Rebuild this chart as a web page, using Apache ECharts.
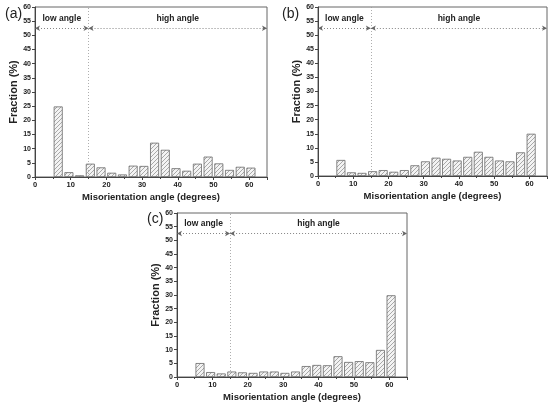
<!DOCTYPE html>
<html>
<head>
    <meta charset="utf-8">
    <title>Misorientation</title>
    <script src="https://cdn.jsdelivr.net/npm/echarts@6/dist/echarts.min.js"></script>
    <style type="text/css">
        html, body { margin: 0; padding: 0; background: #fff; }
    </style>
</head>
<body>
<div id="main" style="width: 550px;height:403px;"></div>
<script type="text/javascript">
    // bin centres (degrees), 3 degree bins from 5 to 62
    var binCenters = [6.5, 9.5, 12.5, 15.5, 18.5, 21.5, 24.5, 27.5, 30.5, 33.5, 36.5, 39.5, 42.5, 45.5, 48.5, 51.5, 54.5, 57.5, 60.5];
    var fracA = [24.9, 1.7, 0.6, 4.7, 3.4, 1.5, 0.9, 4.0, 3.9, 12.1, 9.6, 3.1, 2.2, 4.7, 7.2, 4.8, 2.5, 3.6, 3.3];
    var fracB = [5.7, 1.3, 1.1, 1.7, 2.1, 1.5, 2.1, 3.8, 5.2, 6.5, 6.1, 5.5, 6.8, 8.6, 6.8, 5.5, 5.2, 8.4, 15.0];
    var fracC = [5.1, 1.8, 1.3, 2.0, 1.7, 1.5, 2.0, 2.0, 1.5, 2.0, 4.0, 4.4, 4.3, 7.6, 5.5, 5.8, 5.4, 9.9, 29.9];
    var panelLabels = ['(a)', '(b)', '(c)'];
    var lowHighBoundary = 15;
    var arrowLevel = 52.5;

    // diagonal hatch pattern for the bars
    var hatch = document.createElement('canvas');
    hatch.width = 4; hatch.height = 4;
    var hc = hatch.getContext('2d');
    hc.fillStyle = '#f3f3f3';
    hc.fillRect(0, 0, 4, 4);
    hc.strokeStyle = '#a8a8a8';
    hc.lineWidth = 1;
    hc.beginPath();
    hc.moveTo(0, 4); hc.lineTo(4, 0);
    hc.moveTo(-1, 1); hc.lineTo(1, -1);
    hc.moveTo(3, 5); hc.lineTo(5, 3);
    hc.stroke();

    var grids = [
        {left: 35, top: 7, width: 232, height: 170},
        {left: 318, top: 7, width: 231, height: 169},
        {left: 177, top: 213, width: 230, height: 170}
    ];
    var titlePos = [[0, 2], [277, 2], [142, 207]];
    var series = [fracA, fracB, fracC];

    var axisCol = '#444';
    var font = 'Liberation Sans';

    var option = {
        animation: false,
        title: [],
        grid: [],
        xAxis: [],
        yAxis: [],
        series: []
    };

    grids.forEach(function (g, i) {
        option.grid.push({
            left: g.left, top: g.top, width: g.width, height: g.height,
            show: true, borderColor: '#666', borderWidth: 1, backgroundColor: 'transparent'
        });
        option.title.push({
            text: panelLabels[i], left: titlePos[i][0], top: titlePos[i][1],
            textStyle: {fontFamily: font, fontSize: 14, fontWeight: 'normal', color: '#222'}
        });
        option.xAxis.push({
            type: 'value', gridIndex: i, min: 0, max: 65, interval: 10,
            name: 'Misorientation angle (degrees)', nameLocation: 'middle', nameGap: 15,
            nameTextStyle: {fontFamily: font, fontSize: 9.5, fontWeight: 'bold', color: '#222'},
            axisLine: {show: true, lineStyle: {color: axisCol, width: 1}},
            axisTick: {show: true, length: 3, lineStyle: {color: axisCol}},
            minorTick: {show: true, splitNumber: 2, length: 2, lineStyle: {color: axisCol}},
            axisLabel: {
                fontFamily: font, fontSize: 7.5, fontWeight: 'bold', color: '#222', margin: 4,
                formatter: function (v) { return v % 10 === 0 ? v : ''; }
            },
            splitLine: {show: false}
        });
        option.yAxis.push({
            type: 'value', gridIndex: i, min: 0, max: 60, interval: 5,
            name: 'Fraction (%)', nameLocation: 'middle', nameGap: 16,
            nameTextStyle: {fontFamily: font, fontSize: 11, fontWeight: 'bold', color: '#222'},
            axisLine: {show: true, lineStyle: {color: axisCol, width: 1}},
            axisTick: {show: true, length: 3, lineStyle: {color: axisCol}},
            axisLabel: {fontFamily: font, fontSize: 7, fontWeight: 'bold', color: '#222', margin: 4},
            splitLine: {show: false}
        });
        var data = binCenters.map(function (x, k) { return [x, series[i][k]]; });
        var lbl = {fontFamily: font, fontSize: 8.5, fontWeight: 'bold', color: '#222', distance: 5};
        option.series.push({
            type: 'bar', xAxisIndex: i, yAxisIndex: i, data: data,
            barWidth: 9,
            itemStyle: {color: {image: hatch, repeat: 'repeat'}, borderColor: '#6a6a6a', borderWidth: 0.8},
            markLine: {
                silent: true,
                symbol: ['none', 'none'],
                animation: false,
                data: [
                    {
                        xAxis: lowHighBoundary,
                        lineStyle: {type: [1, 2], color: '#999', width: 0.8},
                        label: {show: false}
                    },
                    [
                        {coord: [0, arrowLevel], symbol: 'arrow', symbolSize: [4, 5],
                            lineStyle: {type: [1, 2], color: '#666', width: 0.8},
                            label: Object.assign({show: true, position: 'insideMiddleTop', formatter: 'low angle'}, lbl)},
                        {coord: [lowHighBoundary, arrowLevel], symbol: 'arrow', symbolSize: [4, 5]}
                    ],
                    [
                        {coord: [lowHighBoundary, arrowLevel], symbol: 'arrow', symbolSize: [4, 5],
                            lineStyle: {type: [1, 2], color: '#666', width: 0.8},
                            label: Object.assign({show: true, position: 'insideMiddleTop', formatter: 'high angle'}, lbl)},
                        {coord: [65, arrowLevel], symbol: 'arrow', symbolSize: [4, 5]}
                    ]
                ]
            }
        });
    });

    var myChart = echarts.init(document.getElementById('main'), null, {renderer: 'canvas'});
    myChart.setOption(option);
</script>
</body>
</html>
